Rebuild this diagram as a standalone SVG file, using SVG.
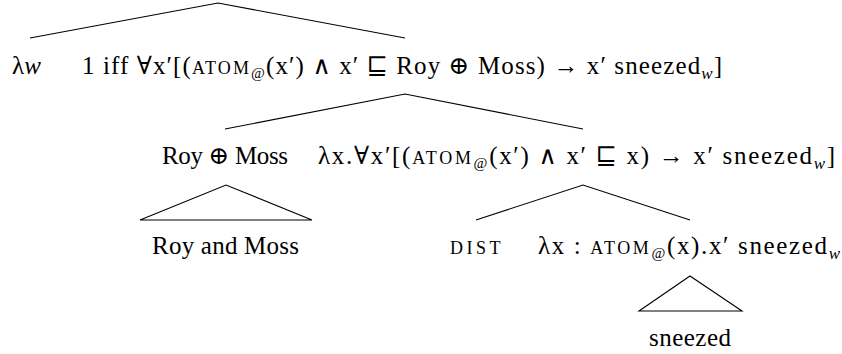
<svg xmlns="http://www.w3.org/2000/svg" width="842" height="354" viewBox="0 0 842 354">
<style>
text { font-family: "Liberation Serif", "DejaVu Serif", serif; font-size: 25px; fill: #000; }
.sc { font-size: 18px; letter-spacing: 1px; }
.sub { font-size: 15px; }
.subi { font-size: 17px; font-style: italic; }
.it { font-style: italic; }
.edge { stroke: #000; stroke-width: 1.1; fill: none; }
</style>
<rect width="842" height="354" fill="#fff"/>
<g id="connectors">
  <polyline class="edge" points="30,38 218,3 405,38"/>
  <polyline class="edge" points="225,129 405,94 583,129"/>
  <polygon class="edge" points="140,220 226,185 312,220"/>
  <polyline class="edge" points="476,220 583,185 690,220"/>
  <polygon class="edge" points="639,311 690,276 742,311"/>
</g>
<g id="lambda-w">
  <text x="12" y="74">λ<tspan class="it">w</tspan></text>
</g>
<g id="root">
  <text x="82" y="74" textLength="640" lengthAdjust="spacing">1 iff ∀x′[(<tspan class="sc">ATOM</tspan><tspan class="sub" dy="4">@</tspan><tspan dy="-4">(x′) ∧ x′ ⊑ Roy ⊕ Moss) → x′ sneezed</tspan><tspan class="subi" dy="5">w</tspan><tspan dy="-5">]</tspan></text>
</g>
<g id="roy-oplus-moss">
  <text x="162" y="164" textLength="126" lengthAdjust="spacing">Roy ⊕ Moss</text>
</g>
<g id="lambda-x-forall">
  <text x="318" y="164" textLength="517" lengthAdjust="spacing">λx.∀x′[(<tspan class="sc">ATOM</tspan><tspan class="sub" dy="4">@</tspan><tspan dy="-4">(x′) ∧ x′ ⊑ x) → x′ sneezed</tspan><tspan class="subi" dy="5">w</tspan><tspan dy="-5">]</tspan></text>
</g>
<g id="roy-and-moss">
  <text x="152" y="254" textLength="147" lengthAdjust="spacing">Roy and Moss</text>
</g>
<g id="dist">
  <text x="450" y="254" class="sc" style="letter-spacing:3.5px">DIST</text>
</g>
<g id="lambda-x-atom">
  <text x="538" y="254" textLength="302" lengthAdjust="spacing">λx : <tspan class="sc">ATOM</tspan><tspan class="sub" dy="4">@</tspan><tspan dy="-4">(x).x′ sneezed</tspan><tspan class="subi" dy="5">w</tspan></text>
</g>
<g id="sneezed">
  <text x="649" y="346" textLength="82" lengthAdjust="spacing">sneezed</text>
</g>
</svg>
